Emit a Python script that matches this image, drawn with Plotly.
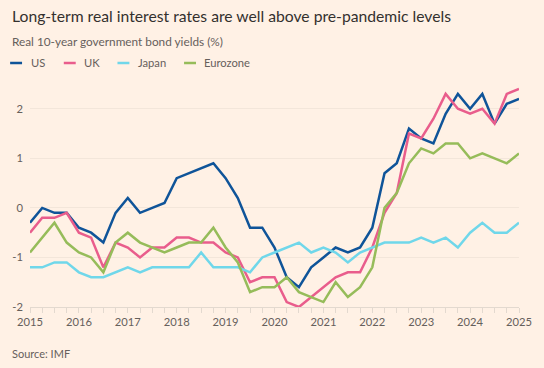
import plotly.graph_objects as go

# Quarterly dates 2015 Q1 .. 2025 Q1
years = [2015 + 0.25 * i for i in range(41)]

us = [-0.3, 0.0, -0.1, -0.1, -0.4, -0.5, -0.7, -0.1, 0.2, -0.1, 0.0, 0.1,
      0.6, 0.7, 0.8, 0.9, 0.6, 0.2, -0.4, -0.4,
      -0.8, -1.4, -1.6, -1.2, -1.0, -0.8, -0.9, -0.8, -0.4, 0.7, 0.9, 1.6,
      1.4, 1.3, 1.9, 2.3, 2.0, 2.3, 1.7, 2.1, 2.2]
uk = [-0.5, -0.2, -0.2, -0.1, -0.5, -0.6, -1.2, -0.7, -0.8, -1.0, -0.8, -0.8,
      -0.6, -0.6, -0.7, -0.7, -0.9, -1.0, -1.5, -1.4,
      -1.4, -1.9, -2.0, -1.8, -1.6, -1.4, -1.3, -1.3, -0.8, -0.1, 0.3, 1.5,
      1.4, 1.8, 2.3, 2.0, 1.9, 2.0, 1.7, 2.3, 2.4]
japan = [-1.2, -1.2, -1.1, -1.1, -1.3, -1.4, -1.4, -1.3, -1.2, -1.3, -1.2, -1.2,
         -1.2, -1.2, -0.9, -1.2, -1.2, -1.2, -1.3, -1.0,
         -0.9, -0.8, -0.7, -0.9, -0.8, -0.9, -1.1, -0.9, -0.8, -0.7, -0.7, -0.7,
         -0.6, -0.7, -0.6, -0.8, -0.5, -0.3, -0.5, -0.5, -0.3]
eurozone = [-0.9, -0.6, -0.3, -0.7, -0.9, -1.0, -1.3, -0.7, -0.5, -0.7, -0.8, -0.9,
            -0.8, -0.7, -0.7, -0.4, -0.8, -1.1, -1.7, -1.6,
            -1.6, -1.4, -1.7, -1.8, -1.9, -1.5, -1.8, -1.6, -1.2, 0.0, 0.3, 0.9,
            1.2, 1.1, 1.3, 1.3, 1.0, 1.1, 1.0, 0.9, 1.1]

series_names = ["US", "UK", "Japan", "Eurozone"]
series_values = [us, uk, japan, eurozone]
colors = ["#0f5499", "#e95d8c", "#70d7ea", "#96bc5a"]

year_ticks = list(range(2015, 2026))
y_ticks = [-2, -1, 0, 1, 2]

FONT = "Lato"
BG = "#fff1e5"

fig = go.Figure()
for name, vals, col in zip(series_names, series_values, colors):
    fig.add_trace(go.Scatter(x=years, y=vals, mode="lines", name=name,
                             line=dict(color=col, width=2.5), showlegend=False))

W, H = 544, 368
L, R, T, B = 27, 25, 84, 61
PW, PH = W - L - R, H - T - B


def px_x(x):
    return (x - L) / PW


def px_y(y):
    return (H - B - y) / PH


shapes = []
annotations = []

annotations.append(dict(text="Long-term real interest rates are well above pre-pandemic levels",
                        xref="paper", yref="paper", x=px_x(7), y=px_y(16),
                        xanchor="left", yanchor="middle", showarrow=False,
                        font=dict(family=FONT, size=15.7, color="#33302e")))
annotations.append(dict(text="Real 10-year government bond yields (%)",
                        xref="paper", yref="paper", x=px_x(7), y=px_y(41),
                        xanchor="left", yanchor="middle", showarrow=False,
                        font=dict(family=FONT, size=11.8, color="#66605c")))
annotations.append(dict(text="Source: IMF",
                        xref="paper", yref="paper", x=px_x(7), y=px_y(353),
                        xanchor="left", yanchor="middle", showarrow=False,
                        font=dict(family=FONT, size=11, color="#66605c")))

# Legend (manual)
leg_x = [7, 61, 115, 182]
for name, col, lx in zip(series_names, colors, leg_x):
    yy = px_y(63)
    shapes.append(dict(type="line", xref="paper", yref="paper",
                       x0=px_x(lx), x1=px_x(lx + 12), y0=yy, y1=yy,
                       line=dict(color=col, width=2.5)))
    annotations.append(dict(text=name, xref="paper", yref="paper",
                            x=px_x(lx + 18.5), y=yy,
                            xanchor="left", yanchor="middle", showarrow=False,
                            font=dict(family=FONT, size=11.2, color="#66605c")))

fig.update_layout(
    width=W, height=H,
    margin=dict(l=L, r=R, t=T, b=B, pad=0),
    paper_bgcolor=BG, plot_bgcolor=BG,
    shapes=shapes, annotations=annotations,
    showlegend=False,
    xaxis=dict(range=[2015, 2025], tickvals=year_ticks, ticktext=[str(y) for y in year_ticks],
               showgrid=False, zeroline=False,
               showline=True, linecolor="#e3d9cf", linewidth=1,
               ticks="outside", ticklen=5, tickcolor="#e3d9cf", tickwidth=1,
               minor=dict(dtick=0.25, tick0=2015, ticks="outside", ticklen=5,
                          tickcolor="#e3d9cf", tickwidth=1, showgrid=False),
               tickfont=dict(family=FONT, size=11.2, color="#66605c"),
               fixedrange=True),
    yaxis=dict(range=[-2, 2.5], tickvals=y_ticks, ticktext=[str(v) for v in y_ticks],
               showgrid=True, gridcolor="#f3e6da", gridwidth=1, zeroline=False,
               showline=False, ticks="", ticklabelstandoff=6,
               tickfont=dict(family=FONT, size=11.2, color="#66605c"),
               fixedrange=True),
)

fig.write_html("out.html", config={"displayModeBar": False},
               post_script="document.body.style.margin='0';document.body.style.padding='0';")
